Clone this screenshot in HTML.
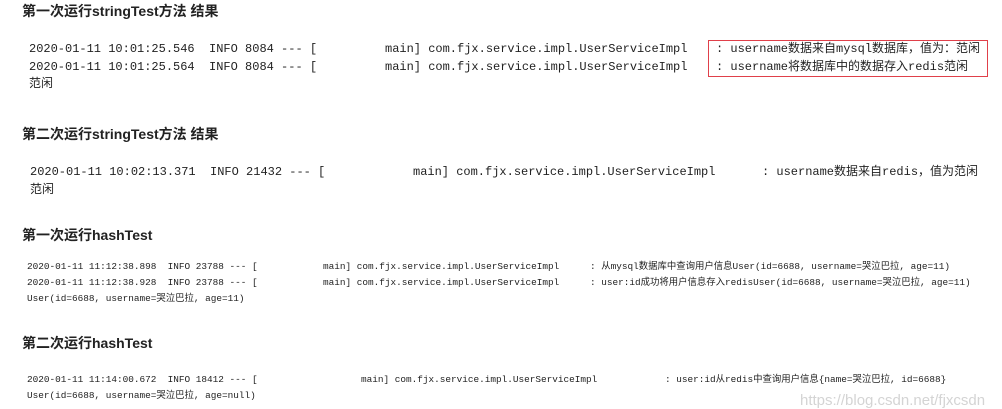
<!DOCTYPE html>
<html><head><meta charset="utf-8"><style>
body{margin:0;width:1002px;height:408px;background:#fff;position:relative;overflow:hidden;font-family:"Liberation Mono","Noto Sans CJK SC",monospace;color:#222}
div{position:absolute;white-space:pre;line-height:1}
.h{font-family:"Liberation Sans","Noto Sans CJK SC",sans-serif;font-weight:bold;font-size:14px;color:#222;left:22px}
.m{font-size:12px}
.s{font-size:9.4px}
</style></head><body>
<div class="h" style="top:4px">第一次运行stringTest方法 结果</div>
<div class="m" style="left:29px;top:43px">2020-01-11 10:01:25.546  INFO 8084 --- [</div>
<div class="m" style="left:385px;top:43px">main] com.fjx.service.impl.UserServiceImpl</div>
<div class="m" style="left:716px;top:43px">: username数据来自mysql数据库，值为：范闲</div>
<div class="m" style="left:29px;top:61px">2020-01-11 10:01:25.564  INFO 8084 --- [</div>
<div class="m" style="left:385px;top:61px">main] com.fjx.service.impl.UserServiceImpl</div>
<div class="m" style="left:716px;top:61px">: username将数据库中的数据存入redis范闲</div>
<div class="m" style="left:29px;top:78px">范闲</div>
<div style="left:708px;top:40px;width:278px;height:35px;border:1.5px solid #e0404a"></div>

<div class="h" style="top:127px">第二次运行stringTest方法 结果</div>
<div class="m" style="left:30px;top:166px">2020-01-11 10:02:13.371  INFO 21432 --- [</div>
<div class="m" style="left:413px;top:166px">main] com.fjx.service.impl.UserServiceImpl</div>
<div class="m" style="left:762px;top:166px">: username数据来自redis，值为范闲</div>
<div class="m" style="left:30px;top:184px">范闲</div>

<div class="h" style="top:228px">第一次运行hashTest</div>
<div class="s" style="left:27px;top:262px">2020-01-11 11:12:38.898  INFO 23788 --- [</div>
<div class="s" style="left:323px;top:262px">main] com.fjx.service.impl.UserServiceImpl</div>
<div class="s" style="left:590px;top:262px">: 从mysql数据库中查询用户信息User(id=6688, username=哭泣巴拉, age=11)</div>
<div class="s" style="left:27px;top:278px">2020-01-11 11:12:38.928  INFO 23788 --- [</div>
<div class="s" style="left:323px;top:278px">main] com.fjx.service.impl.UserServiceImpl</div>
<div class="s" style="left:590px;top:278px">: user:id成功将用户信息存入redisUser(id=6688, username=哭泣巴拉, age=11)</div>
<div class="s" style="left:27px;top:294px">User(id=6688, username=哭泣巴拉, age=11)</div>

<div class="h" style="top:336px">第二次运行hashTest</div>
<div class="s" style="left:27px;top:375px">2020-01-11 11:14:00.672  INFO 18412 --- [</div>
<div class="s" style="left:361px;top:375px">main] com.fjx.service.impl.UserServiceImpl</div>
<div class="s" style="left:665px;top:375px">: user:id从redis中查询用户信息{name=哭泣巴拉, id=6688}</div>
<div class="s" style="left:27px;top:391px">User(id=6688, username=哭泣巴拉, age=null)</div>
<div style="left:800px;top:393px;font-family:'Liberation Sans',sans-serif;font-size:15px;color:#d4d4d4">https://blog.csdn.net/fjxcsdn</div>
</body></html>
